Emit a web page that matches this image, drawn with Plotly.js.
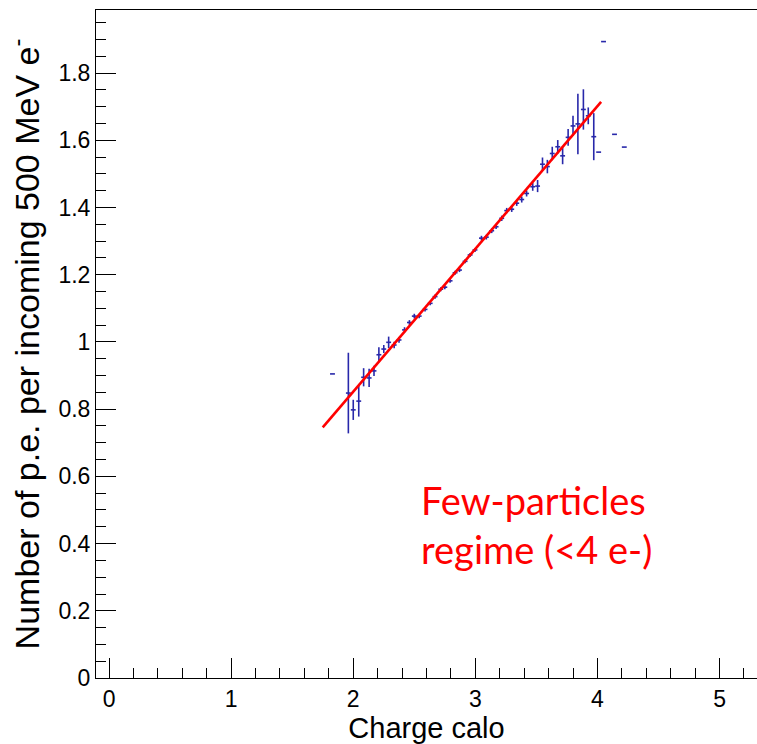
<!DOCTYPE html>
<html>
<head>
<meta charset="utf-8">
<script src="https://cdn.plot.ly/plotly-3.0.1.min.js"></script>
<style>body{margin:0;background:#fff}#chart{width:757px;height:744px}</style>
</head>
<body>
<div id="chart"></div>
<script>
// Profile points (charge calo bin centres), mean p.e. and errors
var chargeCalo = [1.83, 1.96, 2.00, 2.045, 2.085, 2.13, 2.17, 2.21, 2.25, 2.29, 2.335, 2.375, 2.42, 2.46, 2.50, 2.54, 2.588, 2.63, 2.67, 2.717, 2.75, 2.793, 2.834, 2.87, 2.916, 2.957, 2.997, 3.05, 3.09, 3.134, 3.17, 3.216, 3.257, 3.298, 3.339, 3.38, 3.42, 3.47, 3.51, 3.55, 3.59, 3.63, 3.675, 3.715, 3.76, 3.80, 3.84, 3.885, 3.925, 3.97, 4.01, 4.05, 4.14, 4.22];
var numPE = [0.905, 0.848, 0.798, 0.824, 0.895, 0.893, 0.914, 0.962, 0.979, 0.999, 0.991, 1.006, 1.036, 1.058, 1.077, 1.077, 1.097, 1.115, 1.135, 1.157, 1.163, 1.182, 1.206, 1.214, 1.240, 1.259, 1.274, 1.309, 1.312, 1.331, 1.343, 1.368, 1.391, 1.395, 1.413, 1.424, 1.442, 1.462, 1.464, 1.529, 1.522, 1.561, 1.581, 1.554, 1.609, 1.643, 1.649, 1.692, 1.673, 1.611, 1.565, 1.894, 1.618, 1.580];
var errPE = [0, 0.12, 0.03, 0.046, 0.027, 0.027, 0.015, 0.022, 0.012, 0.017, 0.010, 0.008, 0.008, 0.007, 0.007, 0.006, 0.006, 0.006, 0.006, 0.006, 0.006, 0.006, 0.006, 0.006, 0.006, 0.006, 0.006, 0.007, 0.007, 0.007, 0.007, 0.008, 0.008, 0.008, 0.008, 0.009, 0.009, 0.012, 0.018, 0.02, 0.02, 0.02, 0.02, 0.025, 0.025, 0.03, 0.09, 0.06, 0.025, 0.07, 0, 0, 0, 0];
var binHalfWidth = [0.02];
// Linear fit p0 + p1*x over fit range
var fitRange = [1.75, 4.03];
var fitP0 = 0.002;
var fitP1 = 0.425;

var fitX = fitRange.slice();
var fitY = fitX.map(function (x) { return fitP0 + fitP1 * x; });

var pointColor = 'rgb(40,40,170)';

var traces = [
  {
    x: chargeCalo, y: numPE, type: 'scatter', mode: 'markers',
    marker: {size: 1, color: pointColor, opacity: 0},
    error_y: {type: 'data', array: errPE, visible: true, color: pointColor, thickness: 1.6, width: 0},
    error_x: {type: 'constant', value: binHalfWidth[0], visible: true, color: pointColor, thickness: 1.6, width: 0},
    showlegend: false, hoverinfo: 'x+y'
  },
  {
    x: fitX, y: fitY, type: 'scatter', mode: 'lines',
    line: {color: 'rgb(255,0,0)', width: 2.6}, showlegend: false
  }
];

var tickFont = {family: 'Liberation Sans, Arial, sans-serif', size: 23, color: '#000'};

var layout = {
  width: 757, height: 744,
  margin: {l: 96, r: 0, t: 10, b: 66},
  paper_bgcolor: '#fff', plot_bgcolor: '#fff',
  xaxis: {
    range: [-0.107, 5.307], showgrid: false, zeroline: false,
    showline: true, linecolor: '#000', linewidth: 1, mirror: true,
    ticks: 'inside', ticklen: 20, tickwidth: 1, tickcolor: '#000',
    dtick: 1, tick0: 0, tickfont: tickFont,
    minor: {ticks: 'inside', ticklen: 10, dtick: 0.2, tickcolor: '#000', tickwidth: 1, showgrid: false},
    title: {text: 'Charge calo', font: {family: 'Liberation Sans, Arial, sans-serif', size: 29, color: '#000'}, standoff: 6}
  },
  yaxis: {
    range: [0, 1.988], showgrid: false, zeroline: false,
    showline: true, linecolor: '#000', linewidth: 1, mirror: false,
    ticks: 'inside', ticklen: 20, tickwidth: 1, tickcolor: '#000',
    dtick: 0.2, tick0: 0, tickfont: tickFont,
    minor: {ticks: 'inside', ticklen: 10, dtick: 0.05, tickcolor: '#000', tickwidth: 1, showgrid: false},
    title: {text: 'Number of p.e. per incoming 500 MeV e<sup>-</sup>', font: {family: 'Liberation Sans, Arial, sans-serif', size: 34, color: '#000'}, standoff: 8}
  },
  annotations: [{
    xref: 'paper', yref: 'paper', x: 0.488, y: 0.155, xanchor: 'left', yanchor: 'bottom',
    align: 'left', showarrow: false,
    text: 'Few-particles<br>regime (&lt;4 e-)',
    font: {family: 'Lato, Open Sans, sans-serif', size: 38, color: 'rgb(255,0,0)'}
  }]
};

Plotly.newPlot('chart', traces, layout, {staticPlot: true});
</script>
</body>
</html>
